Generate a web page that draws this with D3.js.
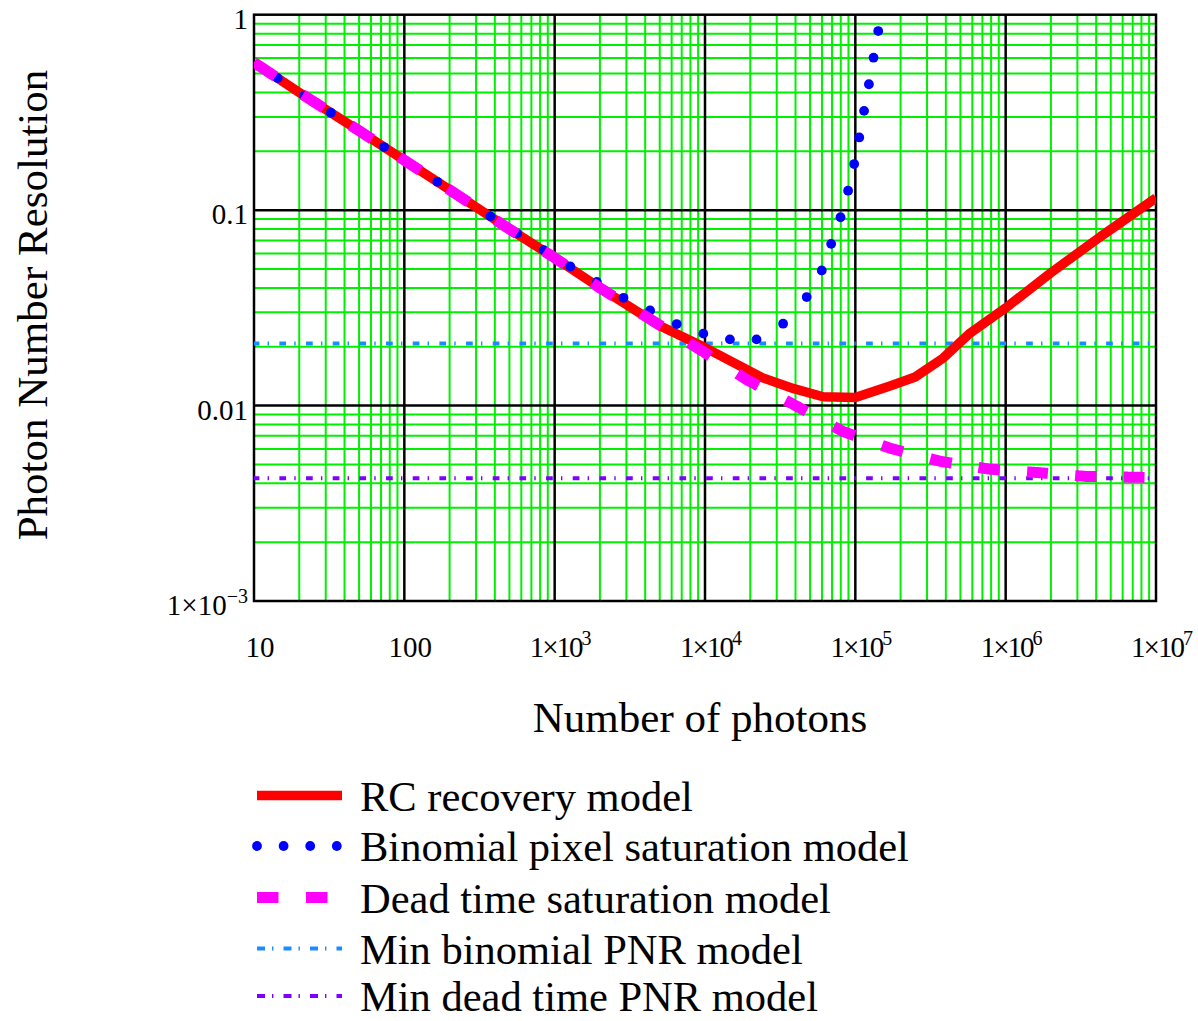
<!DOCTYPE html>
<html><head><meta charset="utf-8">
<script src="https://cdn.jsdelivr.net/npm/d3@7"></script>
<style>
body{margin:0;background:#fff}
svg{display:block}
text{font-family:"Liberation Serif","Times New Roman",serif;fill:#000}
</style>
</head><body>
<svg id="c" width="1198" height="1021"></svg>
<script>
// ---------- data ----------
const xTickValues = [10, 100, 1e3, 1e4, 1e5, 1e6, 1e7];
const xTickBase   = ["10", "100", "1×10", "1×10", "1×10", "1×10", "1×10"];
const xTickExp    = ["", "", "3", "4", "5", "6", "7"];
const yTickValues = [1, 0.1, 0.01, 0.001];
const yTickBase   = ["1", "0.1", "0.01", "1×10"];
const yTickExp    = ["", "", "", "−3"];

const rcN = [10, 20, 50, 100, 200, 500, 1000, 2000, 5000, 10000, 24000, 39000, 61000, 100000, 170000, 250000, 384000, 580000, 1000000, 2000000, 4260000, 10000000];
const rcV = [0.57, 0.40, 0.255, 0.18, 0.127, 0.080, 0.057, 0.040, 0.0256, 0.0198, 0.0139, 0.0122, 0.0111, 0.0110, 0.0126, 0.0140, 0.0175, 0.0235, 0.0316, 0.0478, 0.0731, 0.1154];

const binN = [10, 20, 50, 100, 200, 500, 1000, 1285, 1914, 2870, 4300, 6500, 9800, 14700, 22000, 33000, 45000, 58000, 67000, 78000, 88000, 97000, 105000, 113000, 122000, 131000, 141000, 152000];
const binV = [0.57, 0.40, 0.255, 0.18, 0.127, 0.0805, 0.0575, 0.0512, 0.0429, 0.0356, 0.0307, 0.0261, 0.0233, 0.0218, 0.0218, 0.0262, 0.0336, 0.046, 0.063, 0.087, 0.119, 0.164, 0.224, 0.307, 0.423, 0.58, 0.80, 1.1];

const deadN = [10, 20, 50, 100, 200, 500, 1000, 2000, 5000, 9300, 19000, 40000, 83000, 170000, 370000, 780000, 1640000, 3400000, 10000000];
const deadV = [0.57, 0.40, 0.255, 0.18, 0.127, 0.080, 0.057, 0.040, 0.0258, 0.0193, 0.01355, 0.0100, 0.00736, 0.00605, 0.00518, 0.00473, 0.00454, 0.00434, 0.00428];

const minBinomialPNR = 0.0208;
const minDeadTimePNR = 0.00425;

const seriesNames = ["RC recovery model", "Binomial pixel saturation model", "Dead time saturation model", "Min binomial PNR model", "Min dead time PNR model"];
const xTitle = "Number of photons";
const yTitle = "Photon Number Resolution";

// ---------- layout ----------
const L = 254, R = 1156, T = 14.7, B = 601;
const svg = d3.select("#c");
const x = d3.scaleLog().domain([10, 1e7]).range([L, R]);
const y = d3.scaleLog().domain([0.001, 1]).range([B, T]);

const GREEN = "#00f000", RED = "#ff0000", BLUE = "#0000ff", MAG = "#ff00ff", LBLUE = "#1a8cff", PURP = "#8000ff";

// minor grid
const minorX = [], minorY = [];
for (let d = 10; d < 1e7; d *= 10) for (let k = 2; k <= 9; k++) minorX.push(d * k);
for (let d = 0.001; d < 0.9; d *= 10) for (let k = 2; k <= 9; k++) minorY.push(d * k);
const grid = svg.append("g");
grid.selectAll(".mx").data(minorX).enter().append("line")
  .attr("x1", d => x(d)).attr("x2", d => x(d)).attr("y1", T).attr("y2", B)
  .attr("stroke", GREEN).attr("stroke-width", 2);
grid.selectAll(".my").data(minorY).enter().append("line")
  .attr("y1", d => y(d)).attr("y2", d => y(d)).attr("x1", L).attr("x2", R)
  .attr("stroke", GREEN).attr("stroke-width", 2);
// major grid
grid.selectAll(".Mx").data(xTickValues.slice(1, -1)).enter().append("line")
  .attr("x1", d => x(d)).attr("x2", d => x(d)).attr("y1", T).attr("y2", B)
  .attr("stroke", "#000").attr("stroke-width", 2.5);
grid.selectAll(".My").data(yTickValues.slice(1, -1)).enter().append("line")
  .attr("y1", d => y(d)).attr("y2", d => y(d)).attr("x1", L).attr("x2", R)
  .attr("stroke", "#000").attr("stroke-width", 2.5);
grid.append("rect").attr("x", L).attr("y", T).attr("width", R - L).attr("height", B - T)
  .attr("fill", "none").attr("stroke", "#000").attr("stroke-width", 2.5);

// tick labels
const xt = svg.append("g");
xTickValues.forEach((v, i) => {
  const t = xt.append("text").attr("x", x(v) + 6).attr("y", 657).attr("text-anchor", "middle").attr("font-size", 29);
  const b = t.append("tspan").text(xTickBase[i]);
  if (xTickExp[i]) {
    b.attr("letter-spacing", -2);
    t.append("tspan").attr("dy", -12).attr("font-size", 20).text(xTickExp[i]);
  }
});
const yt = svg.append("g");
yTickValues.forEach((v, i) => {
  const t = yt.append("text").attr("x", 248).attr("y", y(v) + 14).attr("text-anchor", "end").attr("font-size", 29);
  t.append("tspan").text(yTickBase[i]);
  if (yTickExp[i]) t.append("tspan").attr("dy", -12).attr("font-size", 20).text(yTickExp[i]);
});

// titles
svg.append("text").attr("x", 700).attr("y", 732).attr("text-anchor", "middle").attr("font-size", 43).text(xTitle);
svg.append("text").attr("transform", "translate(47,305) rotate(-90)").attr("text-anchor", "middle").attr("font-size", 43).text(yTitle);

// ---------- pattern helpers (pattern measured along the major pixel axis) ----------
function chebDashes(pts, on, period, phase) {
  const out = []; let cur = null; let s = phase;
  for (let i = 0; i < pts.length - 1; i++) {
    const [x0, y0] = pts[i], [x1, y1] = pts[i + 1];
    const len = Math.max(Math.abs(x1 - x0), Math.abs(y1 - y0));
    const n = Math.max(1, Math.ceil(len / 0.5));
    for (let j = (i === 0 ? 0 : 1); j <= n; j++) {
      const t = j / n;
      const px = x0 + (x1 - x0) * t, py = y0 + (y1 - y0) * t;
      const ss = s + len * t;
      const m = ((ss % period) + period) % period;
      if (m < on) { if (!cur) { cur = []; out.push(cur); } cur.push([px, py]); }
      else cur = null;
    }
    s += len;
  }
  return out;
}
function chebDots(pts, period, first) {
  const out = []; let s = 0; let next = first;
  for (let i = 0; i < pts.length - 1; i++) {
    const [x0, y0] = pts[i], [x1, y1] = pts[i + 1];
    const len = Math.max(Math.abs(x1 - x0), Math.abs(y1 - y0));
    while (next <= s + len && len > 0) {
      const t = (next - s) / len;
      out.push([x0 + (x1 - x0) * t, y0 + (y1 - y0) * t]);
      next += period;
    }
    s += len;
  }
  return out;
}

svg.append("clipPath").attr("id", "pc").append("rect")
  .attr("x", L).attr("y", T).attr("width", R - L).attr("height", B - T);
const plot = svg.append("g").attr("clip-path", "url(#pc)");
const lineGen = d3.line();

const DASHDOT = "6.7,8.2,1.4,10.37";
// min lines
plot.append("line").attr("x1", x(10)).attr("x2", x(1e7)).attr("y1", y(minBinomialPNR)).attr("y2", y(minBinomialPNR))
  .attr("stroke", LBLUE).attr("stroke-width", 4).attr("stroke-dasharray", DASHDOT).attr("stroke-dashoffset", 1.3);
plot.append("line").attr("x1", x(10)).attr("x2", x(1e7)).attr("y1", y(minDeadTimePNR)).attr("y2", y(minDeadTimePNR))
  .attr("stroke", PURP).attr("stroke-width", 4).attr("stroke-dasharray", DASHDOT).attr("stroke-dashoffset", 1.3);

// RC
const rcPts = rcN.map((n, i) => [x(n), y(rcV[i])]);
plot.append("path").attr("d", lineGen(rcPts)).attr("fill", "none").attr("stroke", RED)
  .attr("stroke-width", 9.5).attr("stroke-linejoin", "round");

// Binomial dots
const binPts = binN.map((n, i) => [x(n), y(binV[i])]);
plot.selectAll(".bd").data(chebDots(binPts, 26.6, 23.7)).enter().append("circle")
  .attr("cx", d => d[0]).attr("cy", d => d[1]).attr("r", 4.9).attr("fill", BLUE);

// Dead time dashes
const deadPts = deadN.map((n, i) => [x(n), y(deadV[i])]);
plot.selectAll(".dd").data(chebDashes(deadPts, 21.5, 48.3, 0)).enter().append("path")
  .attr("d", d => lineGen(d)).attr("fill", "none").attr("stroke", MAG).attr("stroke-width", 11).attr("stroke-linecap", "butt");

// ---------- legend ----------
const legY = [795.5, 846, 897.5, 948.5, 996];
const lx0 = 257, lx1 = 342;
const leg = svg.append("g");
leg.append("line").attr("x1", lx0).attr("x2", lx1).attr("y1", legY[0]).attr("y2", legY[0]).attr("stroke", RED).attr("stroke-width", 9.5);
leg.selectAll(".ld").data(chebDots([[lx0, legY[1]], [lx1, legY[1]]], 26.6, 0)).enter().append("circle")
  .attr("cx", d => d[0]).attr("cy", d => d[1]).attr("r", 4.9).attr("fill", BLUE);
leg.selectAll(".lm").data(chebDashes([[lx0, legY[2]], [lx1, legY[2]]], 22, 48.7, 0)).enter().append("path")
  .attr("d", d => lineGen(d)).attr("stroke", MAG).attr("stroke-width", 11).attr("fill", "none");
leg.append("line").attr("x1", lx0).attr("x2", lx1).attr("y1", legY[3]).attr("y2", legY[3]).attr("stroke", LBLUE).attr("stroke-width", 4).attr("stroke-dasharray", "8,7,1.4,10.1");
leg.append("line").attr("x1", lx0).attr("x2", lx1).attr("y1", legY[4]).attr("y2", legY[4]).attr("stroke", PURP).attr("stroke-width", 4).attr("stroke-dasharray", "8,7,1.4,10.1");
seriesNames.forEach((s, i) => {
  leg.append("text").attr("x", 360).attr("y", legY[i] + 15).attr("font-size", 42.5).text(s);
});
</script>
</body></html>
